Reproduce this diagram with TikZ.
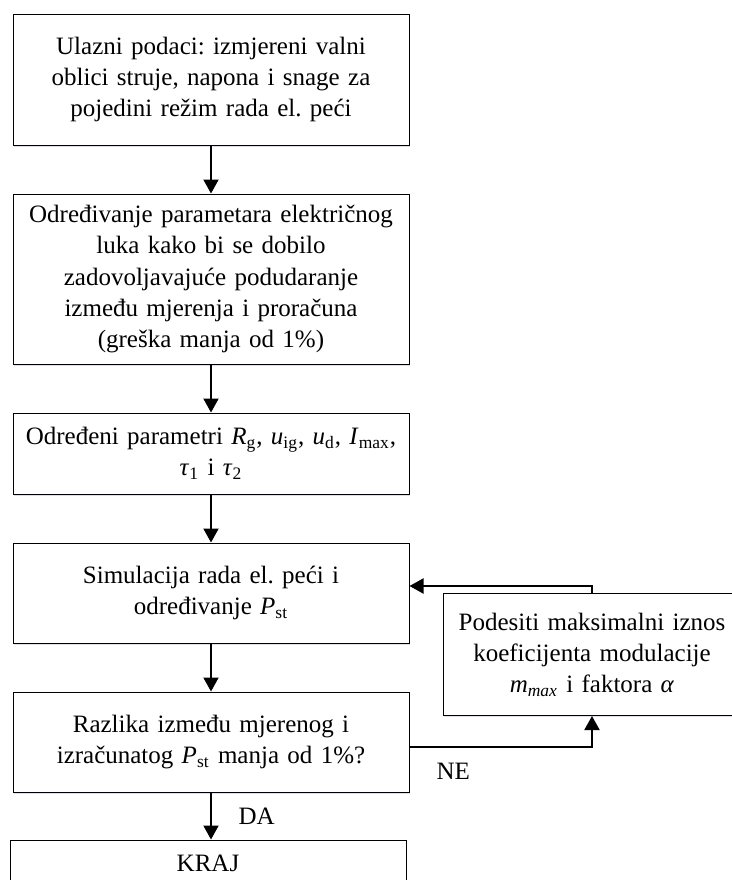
\documentclass[tikz,border=0pt]{standalone}
\usepackage{fontspec}
\setmainfont{Liberation Serif}
\usetikzlibrary{positioning,arrows.meta,shadows}
\frenchspacing

\begin{document}
\begin{tikzpicture}[x=0.5pt,y=-0.5pt,node distance=24pt,
    box/.style={draw,line width=0.5pt,fill=white,align=center,text width=193pt,
      minimum width=198pt,inner sep=2pt,font=\fontsize{12.5}{15.6}\selectfont,
      drop shadow={shadow xshift=0.6pt,shadow yshift=-0.8pt,fill=blue!30!gray,opacity=0.2}},
    arr/.style={-{Triangle[length=7pt,width=7.5pt]},line width=1pt},
    lbl/.style={font=\fontsize{12.5}{15.6}\selectfont}]
  \clip (0,0) rectangle (732,880);

  \node[box,minimum height=65.5pt] (ulaz) at (211,79.5)
    {Ulazni podaci: izmjereni valni\\ oblici struje, napona i snage za\\ pojedini režim rada el. peći};
  \node[box,minimum height=85pt,below=of ulaz] (param)
    {Određivanje parametara električnog\\ luka kako bi se dobilo\\ zadovoljavajuće podudaranje\\ između mjerenja i proračuna\\ (greška manja od 1\%)};
  \node[box,minimum height=40.5pt,below=of param] (odredeni)
    {Određeni parametri \textit{R}\textsubscript{g}, \textit{u}\textsubscript{ig}, \textit{u}\textsubscript{d}, \textit{I}\textsubscript{max},\\ \textit{τ}\textsubscript{1} i \textit{τ}\textsubscript{2}};
  \node[box,minimum height=50pt,below=of odredeni] (sim)
    {Simulacija rada el. peći i\\ određivanje \textit{P}\textsubscript{st}};
  \node[box,minimum height=50pt,below=of sim] (razlika)
    {Razlika između mjerenog i\\ izračunatog \textit{P}\textsubscript{st} manja od 1\%?};
  \node[box,minimum height=23pt,below=23.5pt of razlika,xshift=-1.5pt] (kraj) {KRAJ};
  \node[box,anchor=north west,text width=144pt,minimum width=149pt,minimum height=61pt]
    (podesi) at ([xshift=16.5pt]sim.east)
    {Podesiti maksimalni iznos\\ koeficijenta modulacije\\ \textit{m}\textsubscript{\textit{max}} i faktora \textit{α}};

  \draw[arr] (ulaz) -- (param);
  \draw[arr] (param) -- (odredeni);
  \draw[arr] (odredeni) -- (sim);
  \draw[arr] (sim) -- (razlika);
  \draw[arr] (razlika.south) -- node[lbl,right=10pt] {DA} (razlika.south |- kraj.north);
  \draw[arr] ([yshift=-2.5pt]razlika.east) -| node[lbl,pos=0.12,below=4pt] {NE} (podesi.south);
  \draw[arr] (podesi.north) |- ([yshift=3.5pt]sim.east);
\end{tikzpicture}
\end{document}
